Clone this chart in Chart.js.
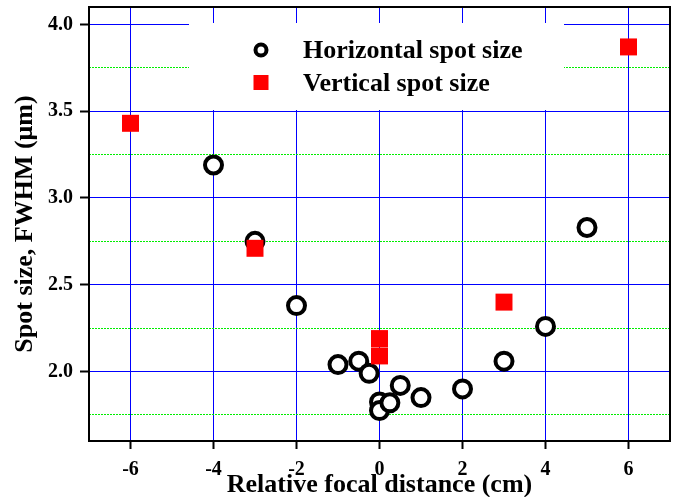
<!DOCTYPE html>
<html>
<head>
<meta charset="utf-8">
<script src="https://cdn.jsdelivr.net/npm/chart.js@4/dist/chart.umd.min.js"></script>
<style>
html, body { margin: 0; padding: 0; background: #fff; }
#wrap { width: 677px; height: 497px; }
</style>
</head>
<body>
<div id="wrap"><canvas id="chart"></canvas></div>
<script>
// values
const horizX = [-4, -3, -2, -1, -0.5, -0.25, 0, 0, 0.25, 0.5, 1, 2, 3, 4, 5];
const horizY = [3.19, 2.75, 2.38, 2.04, 2.06, 1.99, 1.825, 1.775, 1.82, 1.92, 1.85, 1.90, 2.06, 2.26, 2.83];
const vertX = [-6, -3, 0, 0, 3, 6];
const vertY = [3.43, 2.71, 2.19, 2.09, 2.40, 3.87];

const xTicks = [-6, -4, -2, 0, 2, 4, 6];
const xMinorTicks = [-7, -5, -3, -1, 1, 3, 5, 7];
const yTicks = [2.0, 2.5, 3.0, 3.5, 4.0];
const yMinorTicks = [1.75, 2.25, 2.75, 3.25, 3.75];

const serif = "'Liberation Serif', 'Times New Roman', serif";

function points(xs, ys) {
    return xs.map((x, i) => ({ x: x, y: ys[i] }));
}

function setTicks(values) {
    return function (scale) {
        scale.ticks = values.map(v => ({ value: v }));
    };
}

// fix the axis size and drop the label overhang padding
function fitTo(prop, size) {
    return function (scale) {
        scale[prop] = size;
        scale.paddingTop = 0;
        scale.paddingBottom = 0;
        scale.paddingLeft = 0;
        scale.paddingRight = 0;
    };
}

// white legend box drawn over the grid, inside the plot
const legendBox = {
    id: 'legendBox',
    beforeDatasetsDraw(chart) {
        const ctx = chart.ctx;
        const ds = chart.data.datasets;
        ctx.save();
        ctx.fillStyle = '#fff';
        ctx.fillRect(189, 23, 375, 87);

        ctx.beginPath();
        ctx.arc(261, 50, 5.5, 0, Math.PI * 2);
        ctx.lineWidth = 4;
        ctx.strokeStyle = '#000';
        ctx.stroke();

        ctx.fillStyle = '#ff0000';
        ctx.fillRect(253.5, 75, 15, 15);

        ctx.fillStyle = '#000';
        ctx.font = 'bold 26px ' + serif;
        ctx.textBaseline = 'alphabetic';
        ctx.fillText(ds[0].label, 303, 58);
        ctx.fillText(ds[1].label, 303, 90.5);

        // top and right frame
        const a = chart.chartArea;
        ctx.strokeStyle = '#000';
        ctx.lineWidth = 2;
        ctx.beginPath();
        ctx.moveTo(a.left, a.top);
        ctx.lineTo(a.right, a.top);
        ctx.lineTo(a.right, a.bottom);
        ctx.stroke();
        ctx.restore();
    }
};

new Chart(document.getElementById('chart'), {
    type: 'scatter',
    data: {
        datasets: [
            {
                label: 'Horizontal spot size',
                data: points(horizX, horizY),
                pointStyle: 'circle',
                pointRadius: 8.5,
                pointBorderWidth: 4,
                borderColor: '#000',
                backgroundColor: '#fff',
                order: 2
            },
            {
                label: 'Vertical spot size',
                data: points(vertX, vertY),
                pointStyle: 'rect',
                pointRadius: 12,
                pointBorderWidth: 0,
                borderColor: '#ff0000',
                backgroundColor: '#ff0000',
                order: 1
            }
        ]
    },
    options: {
        responsive: true,
        maintainAspectRatio: false,
        animation: false,
        events: [],
        layout: { autoPadding: false, padding: { top: 7, right: 7, left: 0, bottom: 0 } },
        plugins: {
            legend: { display: false },
            tooltip: { enabled: false }
        },
        scales: {
            x: {
                type: 'linear',
                position: 'bottom',
                min: -7,
                max: 7,
                afterBuildTicks: setTicks(xTicks),
                afterFit: fitTo('height', 56),
                grid: { color: '#0000ff', lineWidth: 1, tickColor: '#000', tickLength: 8, tickWidth: 2 },
                border: { color: '#000', width: 2 },
                ticks: {
                    color: '#000',
                    padding: 9,
                    maxRotation: 0,
                    font: { family: serif, size: 20, weight: 'bold' }
                },
                title: {
                    display: true,
                    text: 'Relative focal distance (cm)',
                    color: '#000',
                    padding: { top: 0, bottom: 0 },
                    font: { family: serif, size: 26, weight: 'bold', lineHeight: 0.92 }
                }
            },
            x2: {
                type: 'linear',
                position: 'bottom',
                min: -7,
                max: 7,
                afterBuildTicks: setTicks(xMinorTicks),
                afterFit: fitTo('height', 0),
                grid: { drawOnChartArea: false, tickColor: '#000', tickLength: 5, tickWidth: 2 },
                border: { display: false },
                ticks: { display: false }
            },
            y: {
                type: 'linear',
                position: 'left',
                min: 1.6,
                max: 4.1,
                afterBuildTicks: setTicks(yTicks),
                afterFit: fitTo('width', 89),
                grid: { color: '#0000ff', lineWidth: 1, tickColor: '#000', tickLength: 9, tickWidth: 2 },
                border: { color: '#000', width: 2 },
                ticks: {
                    color: '#000',
                    padding: 7,
                    callback: v => v.toFixed(1),
                    font: { family: serif, size: 20, weight: 'bold' }
                },
                title: {
                    display: true,
                    text: 'Spot size, FWHM (\u03bcm)',
                    color: '#000',
                    padding: { top: 12, bottom: 0 },
                    font: { family: serif, size: 26, weight: 'bold', lineHeight: 1 }
                }
            },
            y2: {
                type: 'linear',
                position: 'left',
                min: 1.6,
                max: 4.1,
                afterBuildTicks: setTicks(yMinorTicks),
                afterFit: fitTo('width', 0),
                grid: { color: '#00ee00', lineWidth: 1, tickColor: '#000', tickLength: 5, tickWidth: 2 },
                border: { display: false, dash: [2, 1] },
                ticks: { display: false }
            }
        }
    },
    plugins: [legendBox]
});
</script>
</body>
</html>
